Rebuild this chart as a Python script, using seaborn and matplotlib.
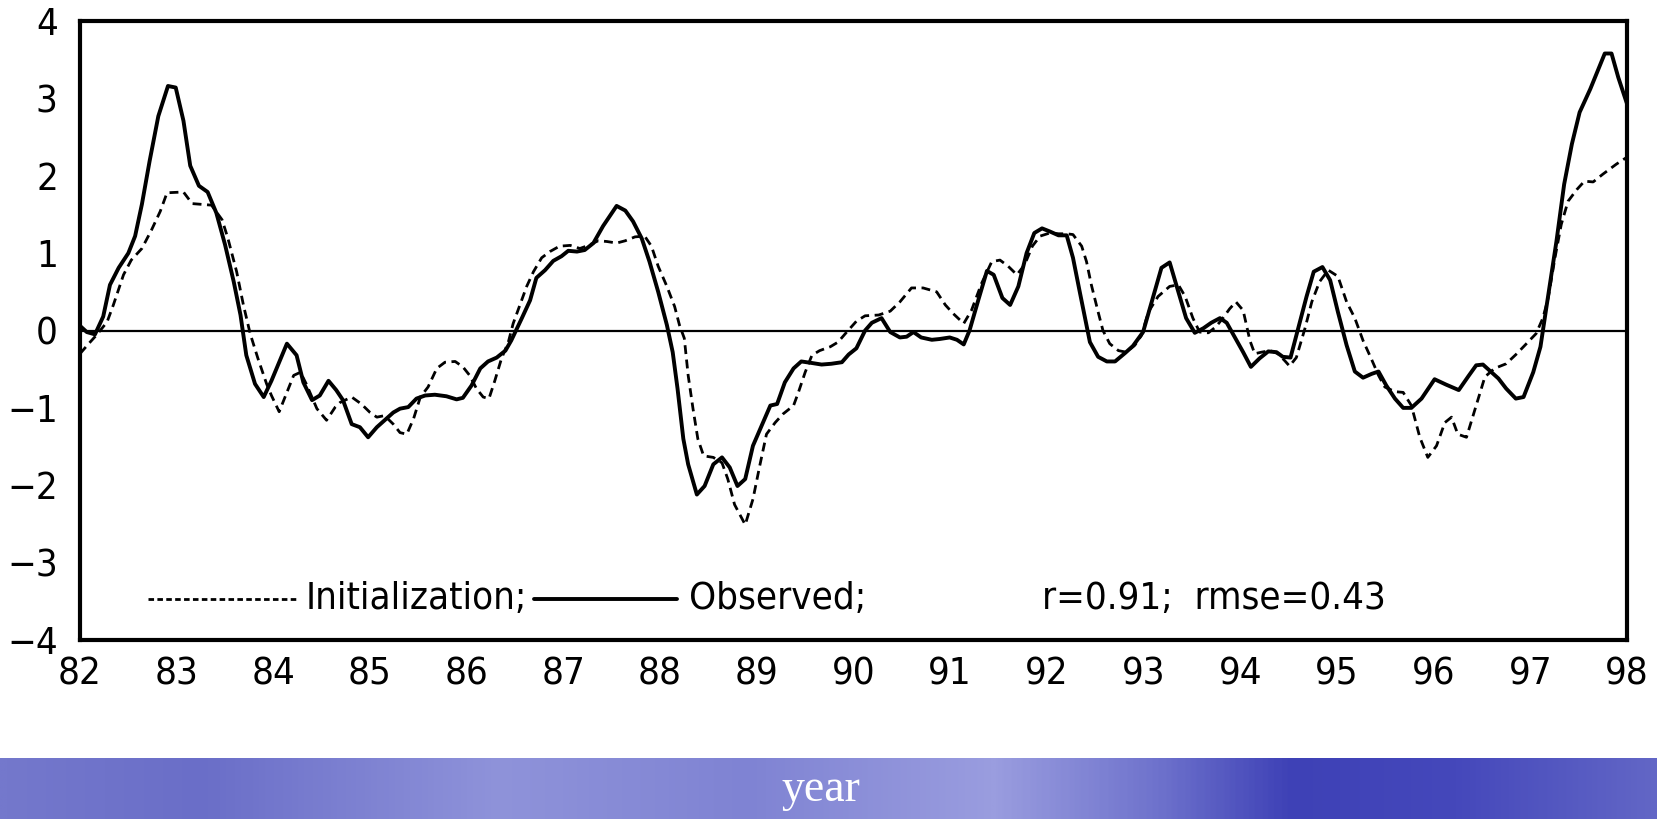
import numpy as np
import pandas as pd
import matplotlib
matplotlib.use("Agg")
import matplotlib.pyplot as plt
from matplotlib.lines import Line2D
from matplotlib.colors import LinearSegmentedColormap
import seaborn as sns

# ---------------- data ----------------
obs_year = [82.0, 82.07, 82.155, 82.24, 82.31, 82.40, 82.50, 82.57, 82.64, 82.72, 82.81, 82.91, 82.99,
            83.07, 83.14, 83.23, 83.32, 83.41, 83.50, 83.59, 83.66, 83.72, 83.81, 83.90, 83.98,
            84.14, 84.24, 84.31, 84.40, 84.48, 84.57, 84.65, 84.72, 84.81, 84.895, 84.98,
            85.07, 85.15, 85.24, 85.31, 85.395, 85.48, 85.57, 85.67, 85.79, 85.895, 85.96,
            86.05, 86.14, 86.22, 86.31, 86.40, 86.46, 86.57, 86.655, 86.72, 86.81, 86.895, 86.98,
            87.05, 87.14, 87.22, 87.31, 87.41, 87.55, 87.64, 87.72, 87.81, 87.89, 87.98,
            88.07, 88.13, 88.18, 88.24, 88.29, 88.38, 88.46, 88.55, 88.64, 88.72, 88.80, 88.88, 88.96,
            89.05, 89.14, 89.21, 89.29, 89.38, 89.46, 89.57, 89.67, 89.77, 89.88, 89.95,
            90.03, 90.12, 90.19, 90.29, 90.38, 90.48, 90.55, 90.62, 90.70, 90.81, 90.89, 90.995,
            91.07, 91.14, 91.20, 91.29, 91.38, 91.45, 91.54, 91.62, 91.705, 91.79, 91.87, 91.95,
            92.03, 92.12, 92.205, 92.27, 92.34, 92.445, 92.53, 92.62, 92.705, 92.81, 92.89, 92.995,
            93.08, 93.185, 93.27, 93.36, 93.44, 93.53, 93.62, 93.70, 93.79, 93.86, 93.94,
            94.03, 94.11, 94.20, 94.29, 94.375, 94.44, 94.52, 94.60, 94.686, 94.76, 94.85, 94.93,
            95.01, 95.10, 95.185, 95.27, 95.36, 95.43, 95.51, 95.60, 95.685, 95.77, 95.875,
            96.01, 96.13, 96.26, 96.36, 96.44, 96.51, 96.67, 96.75, 96.85, 96.93,
            97.03, 97.105, 97.17, 97.27, 97.35, 97.43, 97.51, 97.62, 97.77, 97.84, 97.91, 98.0]
obs_value = [0.06, -0.02, -0.05, 0.18, 0.59, 0.81, 1.00, 1.22, 1.63, 2.19, 2.77, 3.16, 3.14,
             2.71, 2.13, 1.87, 1.79, 1.52, 1.11, 0.63, 0.20, -0.32, -0.69, -0.86, -0.65,
             -0.17, -0.32, -0.67, -0.90, -0.84, -0.65, -0.77, -0.90, -1.21, -1.25, -1.38,
             -1.25, -1.16, -1.06, -1.01, -0.99, -0.88, -0.84, -0.83, -0.85, -0.89, -0.87,
             -0.71, -0.49, -0.40, -0.35, -0.26, -0.13, 0.16, 0.39, 0.68, 0.78, 0.90, 0.96,
             1.03, 1.02, 1.04, 1.13, 1.35, 1.61, 1.55, 1.41, 1.19, 0.89, 0.50,
             0.07, -0.28, -0.75, -1.40, -1.73, -2.12, -2.01, -1.73, -1.64, -1.77, -2.01, -1.92, -1.49,
             -1.23, -0.97, -0.95, -0.67, -0.49, -0.40, -0.42, -0.44, -0.43, -0.41, -0.31,
             -0.23, 0.00, 0.10, 0.16, -0.02, -0.09, -0.08, -0.02, -0.09, -0.12, -0.11, -0.09,
             -0.12, -0.18, 0.00, 0.39, 0.77, 0.72, 0.42, 0.33, 0.57, 1.00, 1.26, 1.32,
             1.28, 1.23, 1.23, 0.94, 0.50, -0.15, -0.34, -0.40, -0.40, -0.29, -0.20, -0.02,
             0.35, 0.81, 0.88, 0.50, 0.16, -0.03, 0.03, 0.10, 0.16, 0.10, -0.08,
             -0.28, -0.47, -0.36, -0.27, -0.28, -0.34, -0.35, 0.03, 0.44, 0.76, 0.82, 0.65,
             0.24, -0.19, -0.53, -0.61, -0.56, -0.53, -0.71, -0.88, -1.00, -1.00, -0.88,
             -0.63, -0.70, -0.77, -0.59, -0.45, -0.44, -0.62, -0.75, -0.88, -0.86,
             -0.54, -0.21, 0.33, 1.15, 1.89, 2.41, 2.82, 3.12, 3.58, 3.58, 3.27, 2.93]

init_year = [82.0, 82.09, 82.17, 82.28, 82.345, 82.45, 82.53, 82.64, 82.74, 82.83, 82.90,
             83.07, 83.16, 83.26, 83.36, 83.47, 83.53, 83.62, 83.69, 83.76, 83.84, 83.93, 83.98,
             84.06, 84.14, 84.21, 84.28, 84.34, 84.45, 84.55, 84.64, 84.69, 84.81, 84.91,
             85.0, 85.07, 85.15, 85.24, 85.31, 85.38, 85.45, 85.52, 85.60, 85.69, 85.775, 85.88, 85.96,
             86.03, 86.10, 86.17, 86.23, 86.29, 86.36, 86.43, 86.48, 86.55, 86.62, 86.69, 86.775, 86.86, 86.96,
             87.07, 87.17, 87.26, 87.36, 87.45, 87.55, 87.64, 87.74, 87.84, 87.91, 87.98,
             88.07, 88.15, 88.20, 88.25, 88.29, 88.34, 88.39, 88.45, 88.55, 88.64, 88.70, 88.77, 88.88, 88.96,
             89.03, 89.10, 89.19, 89.27, 89.38, 89.43, 89.50, 89.57, 89.65, 89.76, 89.84, 89.93,
             90.03, 90.12, 90.26, 90.38, 90.48, 90.60, 90.72, 90.86, 90.95,
             91.03, 91.14, 91.22, 91.325, 91.43, 91.515, 91.60, 91.69, 91.77, 91.85, 91.93,
             92.03, 92.12, 92.205, 92.27, 92.36, 92.41, 92.46, 92.53, 92.58, 92.65, 92.74, 92.82, 92.91, 92.98,
             93.05, 93.15, 93.27, 93.36, 93.43, 93.51, 93.58, 93.67, 93.75, 93.82, 93.89, 93.955,
             94.03, 94.10, 94.15, 94.22, 94.31, 94.39, 94.46, 94.51, 94.58, 94.67, 94.74, 94.82, 94.91,
             95.01, 95.10, 95.185, 95.27, 95.35, 95.43, 95.495, 95.60, 95.685, 95.77, 95.857, 95.94,
             96.03, 96.116, 96.185, 96.25, 96.34, 96.43, 96.53, 96.63, 96.75, 96.86, 96.96,
             97.06, 97.13, 97.185, 97.255, 97.32, 97.39, 97.48, 97.56, 97.65, 97.75, 97.89, 98.0]
init_value = [-0.30, -0.17, -0.06, 0.11, 0.33, 0.72, 0.91, 1.06, 1.30, 1.54, 1.78,
              1.79, 1.64, 1.63, 1.62, 1.43, 1.19, 0.76, 0.33, -0.04, -0.36, -0.69, -0.84,
              -1.05, -0.80, -0.58, -0.54, -0.69, -1.01, -1.16, -0.99, -0.93, -0.86, -0.95,
              -1.06, -1.12, -1.10, -1.21, -1.32, -1.34, -1.14, -0.86, -0.73, -0.49, -0.41, -0.40, -0.47,
              -0.58, -0.75, -0.86, -0.88, -0.65, -0.36, -0.15, 0.09, 0.33, 0.57, 0.76, 0.94, 1.02, 1.09,
              1.10, 1.06, 1.10, 1.16, 1.15, 1.13, 1.16, 1.21, 1.22, 1.09, 0.83,
              0.57, 0.31, 0.07, -0.10, -0.58, -1.01, -1.40, -1.62, -1.64, -1.71, -1.92, -2.25, -2.51, -2.18,
              -1.75, -1.34, -1.19, -1.08, -0.97, -0.80, -0.54, -0.32, -0.26, -0.21, -0.15, -0.02,
              0.12, 0.19, 0.20, 0.25, 0.37, 0.55, 0.55, 0.50, 0.33,
              0.22, 0.09, 0.26, 0.61, 0.89, 0.91, 0.83, 0.72, 0.85, 1.09, 1.22,
              1.26, 1.25, 1.25, 1.24, 1.09, 0.89, 0.59, 0.24, 0.00, -0.17, -0.26, -0.28, -0.19, -0.06,
              0.24, 0.44, 0.57, 0.59, 0.44, 0.16, -0.02, -0.03, 0.05, 0.16, 0.28, 0.37,
              0.26, -0.13, -0.30, -0.28, -0.26, -0.30, -0.39, -0.46, -0.35, 0.03, 0.37, 0.63, 0.78,
              0.70, 0.37, 0.16, -0.13, -0.35, -0.58, -0.73, -0.79, -0.80, -0.97, -1.38, -1.64,
              -1.49, -1.19, -1.12, -1.34, -1.38, -1.01, -0.60, -0.49, -0.43, -0.30, -0.17,
              -0.04, 0.16, 0.42, 0.94, 1.37, 1.67, 1.82, 1.93, 1.92, 2.02, 2.15, 2.24]

year_ticks = list(range(82, 99))
value_ticks = [-4, -3, -2, -1, 0, 1, 2, 3, 4]
legend_init = "Initialization;"
legend_obs = "Observed;"
stats_text = "r=0.91;  rmse=0.43"
xlabel_text = "year"

# ---------------- figure ----------------
sns.set_style("white")
plt.rcParams["font.family"] = ["DejaVu Sans"]
plt.rcParams["font.stretch"] = "condensed"
plt.rcParams["text.color"] = "black"
plt.rcParams["xtick.color"] = "black"
plt.rcParams["ytick.color"] = "black"

W, H = 1658, 819
fig = plt.figure(figsize=(W / 100, H / 100), dpi=100)
fig.patch.set_facecolor("white")

ax = fig.add_axes([80 / W, 1 - 640 / H, (1627 - 80) / W, (640 - 21) / H])

df_obs = pd.DataFrame({"year": obs_year, "value": obs_value})
df_init = pd.DataFrame({"year": init_year, "value": init_value})

ax.axhline(0, color="black", lw=1.6, zorder=1)
sns.lineplot(data=df_init, x="year", y="value", ax=ax, estimator=None, sort=False,
             color="black", lw=2.0, linestyle=(0, (3.2, 2.0)), zorder=2)
sns.lineplot(data=df_obs, x="year", y="value", ax=ax, estimator=None, sort=False,
             color="black", lw=2.8, zorder=3)

FS = 27.5
ax.set_xlim(82, 98)
ax.set_ylim(-4, 4)
ax.set_xticks(year_ticks)
ax.set_xticklabels([str(t) for t in year_ticks])
ax.set_yticks(value_ticks)
ax.set_yticklabels([("\u2212" + str(-t)) if t < 0 else str(t) for t in value_ticks])
ax.set_xlabel("")
ax.set_ylabel("")
for s in ax.spines.values():
    s.set_visible(True)
    s.set_color("black")
    s.set_linewidth(3.0)
ax.tick_params(axis="both", which="major", direction="out", length=9, width=2.2,
               color="black", labelsize=FS, labelcolor="black")
ax.tick_params(axis="y", pad=7)
ax.tick_params(axis="x", pad=3)
for lab in ax.get_xticklabels() + ax.get_yticklabels():
    lab.set_fontstretch("condensed")
ax.grid(False)

# legend drawn inside the axes
ly = 0.066
ax.add_line(Line2D([0.044, 0.1415], [ly, ly], transform=ax.transAxes, color="black",
                   lw=2.0, linestyle=(0, (2.0, 1.2))))
ax.text(0.1458, ly, legend_init, transform=ax.transAxes, fontsize=FS, va="center", ha="left",
        fontstretch="condensed", color="black")
ax.add_line(Line2D([0.2935, 0.386], [ly, ly], transform=ax.transAxes, color="black", lw=2.8))
ax.text(0.3935, ly, legend_obs, transform=ax.transAxes, fontsize=FS, va="center", ha="left",
        fontstretch="condensed", color="black")
ax.text(0.6216, ly, stats_text, transform=ax.transAxes, fontsize=FS, va="center", ha="left",
        fontstretch="condensed", color="black")

# bottom banner with the axis title
bax = fig.add_axes([0, 0, 1, 61 / H])
stops = [(0.00, "#7478cc"), (0.12, "#6a6ec8"), (0.30, "#8f93da"), (0.45, "#7f83d3"),
         (0.60, "#9a9ddf"), (0.70, "#6e72cc"), (0.78, "#3e41b6"), (0.88, "#4548bb"),
         (1.00, "#6266c6")]
cmap = LinearSegmentedColormap.from_list("banner", stops)
grad = np.linspace(0, 1, 600)[None, :].repeat(20, axis=0)
bax.imshow(grad, aspect="auto", cmap=cmap, extent=[0, 1, 0, 1])
bax.set_axis_off()
bax.text(0.495, 0.48, xlabel_text, transform=bax.transAxes, color="white", fontsize=33,
         family=["Liberation Serif", "DejaVu Serif"], ha="center", va="center")

fig.savefig("out.png", dpi=100)
